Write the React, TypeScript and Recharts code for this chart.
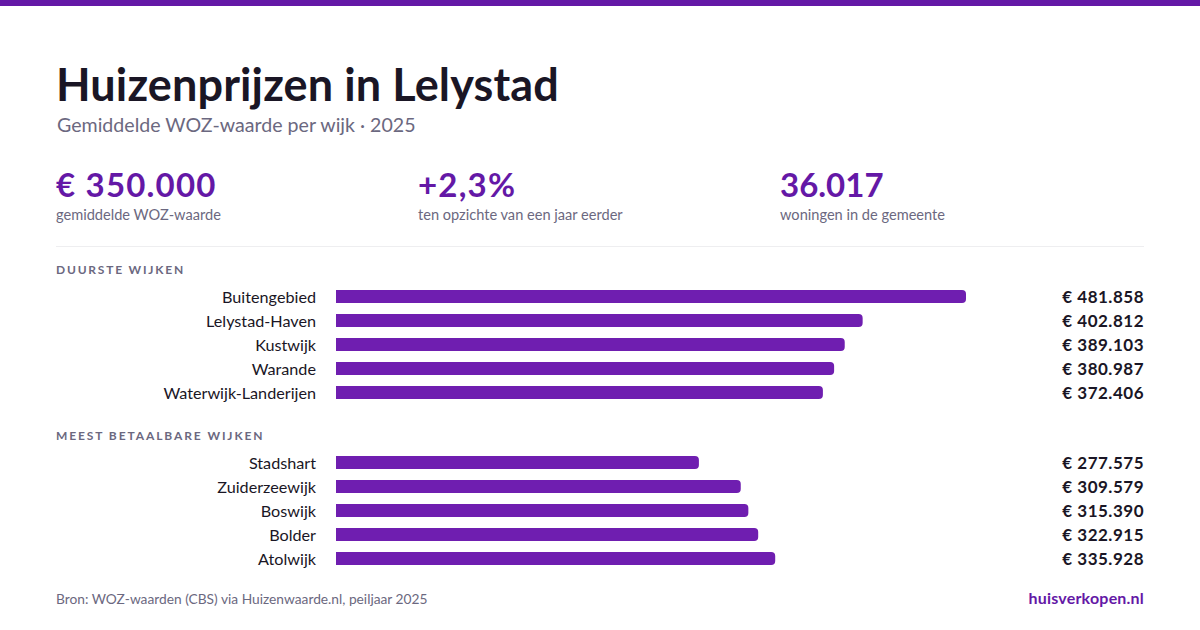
import { BarChart, Bar, XAxis, YAxis, LabelList } from "recharts"

const FONT = "Lato, sans-serif"
const PURPLE = "#6f1eb0"
const PURPLE_TEXT = "#6418a6"
const INK = "#1a1625"
const MUTED = "#6b6880"

const expensiveNames = ["Buitengebied", "Lelystad-Haven", "Kustwijk", "Warande", "Waterwijk-Landerijen"]
const expensiveValues = [481858, 402812, 389103, 380987, 372406]
const affordableNames = ["Stadshart", "Zuiderzeewijk", "Boswijk", "Bolder", "Atolwijk"]
const affordableValues = [277575, 309579, 315390, 322915, 335928]
const stats = [
  { value: "€ 350.000", label: "gemiddelde WOZ-waarde", left: 56, spacing: 1.2 },
  { value: "+2,3%", label: "ten opzichte van een jaar eerder", left: 418, spacing: 1.2 },
  { value: "36.017", label: "woningen in de gemeente", left: 780, spacing: 0 },
]

const maxValue = Math.max(...expensiveValues)
const euro = (v: number) => "€ " + String(v).replace(/\B(?=(\d{3})+$)/g, ".")

function at(left: number, top: number, style: React.CSSProperties): React.CSSProperties {
  return { position: "absolute", left, top, whiteSpace: "nowrap", lineHeight: 1, fontFamily: FONT, ...style }
}

function ValueLabel(props: any) {
  const { y, height, value } = props
  return (
    <text x={1088} y={y + height / 2} dy={6.5} textAnchor="end" fontFamily={FONT} fontSize={17} fontWeight={700} fill={INK} letterSpacing={0.5}>
      {euro(value)}
    </text>
  )
}

function WijkBars({ names, values, top }: { names: string[]; values: number[]; top: number }) {
  const rows = names.map((name, i) => ({ name, value: values[i] }))
  return (
    <div style={{ position: "absolute", left: 56, top }}>
      <BarChart
        width={1088}
        height={122}
        data={rows}
        layout="vertical"
        barSize={13}
        margin={{ top: 0, right: 178, bottom: 2, left: 0 }}
      >
        <XAxis type="number" hide domain={[0, maxValue]} />
        <YAxis
          type="category"
          dataKey="name"
          width={280}
          axisLine={false}
          tickLine={false}
          tickSize={0}
          tickMargin={20}
          interval={0}
          tick={{ fill: INK, fontSize: 16.2, fontFamily: FONT, dy: 1 }}
        />
        <Bar dataKey="value" fill={PURPLE} radius={[0, 4, 4, 0]} isAnimationActive={false}>
          <LabelList dataKey="value" content={ValueLabel} />
        </Bar>
      </BarChart>
    </div>
  )
}

export default function App() {
  return (
    <div style={{ position: "absolute", left: 0, top: 0, width: 1200, height: 630, background: "#fff", overflow: "hidden" }}>
      <div style={{ position: "absolute", left: 0, top: 0, width: 1200, height: 6, background: PURPLE_TEXT }} />
      <div style={at(56, 62, { fontSize: 45, fontWeight: 700, color: INK, letterSpacing: 0.12 })}>Huizenprijzen in Lelystad</div>
      <div style={at(57, 115, { fontSize: 19.6, color: MUTED })}>Gemiddelde WOZ-waarde per wijk · 2025</div>
      {stats.map((s) => (
        <div key={s.label}>
          <div style={at(s.left, 168, { fontSize: 33, fontWeight: 700, color: PURPLE_TEXT, letterSpacing: s.spacing })}>{s.value}</div>
          <div style={at(s.left, 208, { fontSize: 14.6, color: MUTED })}>{s.label}</div>
        </div>
      ))}
      <div style={{ position: "absolute", left: 56, top: 246, width: 1088, height: 1, background: "#eeeef0" }} />
      <div style={at(56, 264, { fontSize: 12, fontWeight: 700, color: MUTED, letterSpacing: 1.8 })}>DUURSTE WIJKEN</div>
      <WijkBars names={expensiveNames} values={expensiveValues} top={284} />
      <div style={at(56, 430, { fontSize: 12, fontWeight: 700, color: MUTED, letterSpacing: 1.9 })}>MEEST BETAALBARE WIJKEN</div>
      <WijkBars names={affordableNames} values={affordableValues} top={450} />
      <div style={at(56, 592, { fontSize: 13.75, color: MUTED })}>Bron: WOZ-waarden (CBS) via Huizenwaarde.nl, peiljaar 2025</div>
      <div style={{ ...at(0, 590, { fontSize: 16, fontWeight: 700, color: PURPLE_TEXT, letterSpacing: 0.2 }), left: "auto", right: 56 }}>huisverkopen.nl</div>
    </div>
  )
}
